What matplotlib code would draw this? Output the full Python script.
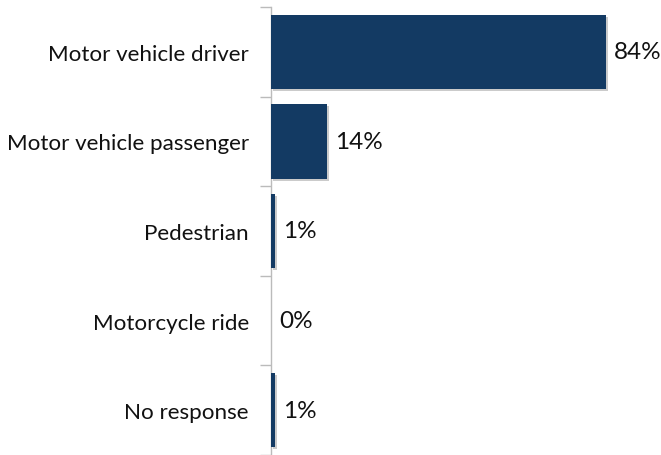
import matplotlib
matplotlib.use("Agg")
import matplotlib.pyplot as plt
import matplotlib.patheffects as pe
import numpy as np

categories = ["Motor vehicle driver", "Motor vehicle passenger", "Pedestrian", "Motorcycle ride", "No response"]
values = [84, 14, 1, 0, 1]
labels = ["84%", "14%", "1%", "0%", "1%"]

plt.rcParams['font.family'] = ['Lato', 'DejaVu Sans']

fig = plt.figure(figsize=(6.61, 4.56), dpi=100)
ax = fig.add_axes([271/661, 0.0, 1 - 271/661, 1 - 8/456])

y = np.arange(len(categories))
bars = ax.barh(y, values, height=0.83, color="#133A63", zorder=3)
for b in bars:
    b.set_path_effects([pe.SimplePatchShadow(offset=(1.5, -1.5), shadow_rgbFace="#999999", alpha=0.5), pe.Normal()])

for yi, v, lab in zip(y, values, labels):
    ax.text(v + 2.0, yi, lab, va="center", ha="left", fontsize=17.5, color="#111111")

ax.set_ylim(len(categories) - 0.5, -0.5)
ax.set_xlim(0, 97.7)
ax.set_yticks(y)
ax.set_yticklabels(categories, fontsize=16.1, color="#111111")
ax.tick_params(axis="y", which="major", length=0, pad=16)
ax.set_yticks(np.arange(-0.5, len(categories), 1.0), minor=True)
ax.tick_params(axis="y", which="minor", length=8, width=1, color="#BBBBBB")
ax.set_xticks([])
for s in ["top", "right", "bottom"]:
    ax.spines[s].set_visible(False)
ax.spines["left"].set_color("#BBBBBB")
ax.spines["left"].set_linewidth(1)

fig.savefig("out.png", dpi=100)
